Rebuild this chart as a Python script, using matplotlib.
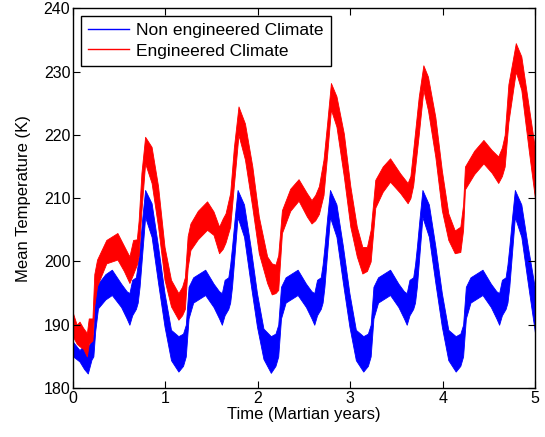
# Mean temperature, non engineered vs engineered climate

import matplotlib.pyplot as plt
from matplotlib.lines import Line2D

plt.rcParams['font.family'] = ['Liberation Sans', 'DejaVu Sans']

# band edges (upper / lower), t in Martian years
t_non = [0.00, 0.07, 0.12, 0.16, 0.20, 0.22, 0.24, 0.27, 0.35, 0.42, 0.52, 0.58, 0.61, 0.64, 0.68, 0.70, 0.72, 0.75, 0.78, 0.85, 0.92, 0.99,
         1.06, 1.14, 1.19, 1.22, 1.25, 1.30, 1.43, 1.52, 1.58, 1.61, 1.64, 1.68, 1.70, 1.72, 1.75, 1.78, 1.85, 1.92, 1.99,
         2.06, 2.14, 2.19, 2.22, 2.25, 2.30, 2.43, 2.52, 2.58, 2.61, 2.64, 2.68, 2.70, 2.72, 2.75, 2.78, 2.85, 2.92, 2.99,
         3.06, 3.14, 3.19, 3.22, 3.25, 3.30, 3.43, 3.52, 3.58, 3.61, 3.64, 3.68, 3.70, 3.72, 3.75, 3.78, 3.85, 3.92, 3.99,
         4.06, 4.14, 4.19, 4.22, 4.25, 4.30, 4.43, 4.52, 4.58, 4.61, 4.64, 4.68, 4.70, 4.72, 4.75, 4.78, 4.85, 4.92, 5.00]
non_hi = [187.3, 186.0, 186.8, 186.5, 187.5, 188.5, 195.5, 196.5, 198.0, 198.7, 196.5, 195.3, 195.0, 197.1, 197.5, 199.5, 202.0, 207.0, 211.3, 209.2, 202.4, 195.0,
          189.2, 188.2, 188.6, 190.0, 196.0, 197.5, 198.7, 196.5, 195.3, 195.0, 197.1, 197.5, 199.5, 202.3, 207.0, 211.3, 209.0, 202.4, 195.0,
          189.4, 188.2, 188.6, 190.0, 196.0, 197.5, 198.7, 196.5, 195.3, 195.0, 197.1, 197.5, 199.5, 202.3, 207.0, 211.3, 209.0, 202.4, 195.0,
          189.2, 188.2, 188.6, 190.0, 196.0, 197.5, 198.7, 196.5, 195.3, 195.0, 197.1, 197.5, 199.5, 202.3, 207.0, 211.3, 209.0, 202.4, 195.0,
          189.2, 188.2, 188.6, 190.0, 196.0, 197.5, 198.7, 196.5, 195.3, 195.0, 197.1, 197.5, 199.5, 202.3, 207.0, 211.3, 209.0, 202.4, 195.5]
non_lo = [185.0, 184.2, 183.0, 182.3, 184.5, 185.0, 189.0, 192.6, 194.0, 194.7, 192.8, 191.0, 190.0, 191.5, 192.5, 193.5, 196.0, 201.5, 207.0, 203.9, 196.6, 189.7,
          184.4, 182.6, 183.5, 185.0, 191.0, 193.5, 194.7, 192.8, 191.0, 190.0, 191.5, 192.5, 193.5, 196.0, 201.5, 207.0, 203.9, 196.6, 189.7,
          184.6, 182.4, 183.5, 185.0, 191.0, 193.5, 194.7, 192.8, 191.0, 190.0, 191.5, 192.5, 193.5, 196.0, 201.5, 207.0, 203.9, 196.6, 189.7,
          184.4, 182.6, 183.5, 185.0, 191.0, 193.5, 194.7, 192.8, 191.0, 190.0, 191.5, 192.5, 193.5, 196.0, 201.5, 207.0, 203.9, 196.6, 189.7,
          184.4, 182.6, 183.5, 185.0, 191.0, 193.5, 194.7, 192.8, 191.0, 190.0, 191.5, 192.5, 193.5, 196.0, 201.5, 207.0, 203.9, 196.6, 188.5]

t_eng = [0.00, 0.04, 0.07, 0.11, 0.15, 0.17, 0.21, 0.23, 0.26, 0.36, 0.48, 0.55, 0.61, 0.65, 0.69, 0.71, 0.74, 0.78, 0.85, 0.92, 0.99,
         1.06, 1.14, 1.18, 1.21, 1.24, 1.27, 1.35, 1.45, 1.52, 1.58, 1.62, 1.65, 1.70, 1.74, 1.79, 1.86, 1.94,
         2.01, 2.10, 2.15, 2.19, 2.22, 2.26, 2.35, 2.44, 2.53, 2.58, 2.62, 2.66, 2.71, 2.75, 2.79, 2.85, 2.93,
         3.00, 3.07, 3.13, 3.18, 3.22, 3.27, 3.35, 3.43, 3.54, 3.62, 3.65, 3.68, 3.74, 3.79, 3.84, 3.92, 3.99,
         4.06, 4.13, 4.19, 4.22, 4.24, 4.34, 4.44, 4.53, 4.60, 4.64, 4.67, 4.71, 4.79, 4.85, 4.93, 5.00]
eng_hi = [191.8, 190.0, 190.5, 189.5, 188.7, 191.0, 191.0, 198.0, 200.3, 203.4, 204.5, 202.5, 200.8, 203.4, 203.5, 206.5, 214.0, 219.7, 218.1, 211.9, 202.3,
          197.1, 195.0, 196.0, 197.5, 204.0, 206.0, 208.0, 209.5, 207.9, 205.5, 206.8, 207.6, 210.8, 218.0, 224.5, 221.8, 215.0,
          207.1, 200.8, 199.7, 199.5, 201.0, 208.1, 211.5, 213.0, 210.8, 209.7, 210.5, 211.9, 216.1, 222.0, 228.2, 226.1, 220.2,
          211.9, 205.5, 202.3, 202.3, 205.0, 212.9, 215.0, 216.3, 213.9, 212.4, 213.5, 217.6, 226.0, 231.0, 229.2, 222.8, 214.4,
          207.6, 204.9, 205.5, 209.0, 215.0, 217.5, 219.2, 217.6, 216.6, 218.0, 220.0, 228.0, 234.5, 232.4, 224.5, 217.6]
eng_lo = [188.1, 187.0, 186.6, 186.2, 185.0, 187.0, 187.5, 193.0, 196.1, 199.7, 200.3, 198.5, 196.6, 198.0, 199.5, 201.0, 208.0, 215.5, 212.4, 205.5, 197.1,
          192.9, 190.8, 191.5, 192.5, 199.0, 201.8, 203.5, 205.0, 204.2, 201.3, 202.0, 203.0, 205.5, 212.0, 220.0, 216.1, 208.5,
          201.3, 196.6, 194.8, 195.0, 195.5, 204.5, 208.0, 209.6, 207.1, 206.0, 206.5, 207.5, 210.5, 217.0, 224.0, 221.3, 213.4,
          205.5, 200.8, 198.1, 198.5, 200.0, 208.5, 211.0, 212.6, 210.8, 209.2, 210.0, 212.0, 220.0, 227.1, 223.9, 216.5, 208.1,
          203.4, 201.3, 201.5, 205.0, 211.4, 213.8, 215.5, 214.0, 212.4, 213.5, 215.0, 222.0, 230.0, 227.1, 217.6, 209.7]

fig = plt.figure(figsize=(5.45, 4.37), dpi=100)
ax = fig.add_axes([0.134, 0.112, 0.848, 0.869])

ax.fill_between(t_non, non_lo, non_hi, color='#0000ff', lw=0.6)
ax.fill_between(t_eng, eng_lo, eng_hi, color='#ff0000', lw=0.6)

ax.set_xlim(0, 5)
ax.set_ylim(180, 240)
ax.set_xticks(range(0, 6))
ax.set_yticks(range(180, 241, 10))
ax.tick_params(direction='in', top=True, right=True, labelsize=11.5, length=5, pad=2)
for s in ax.spines.values():
    s.set_linewidth(1.0)
ax.set_xlabel('Time (Martian years)', fontsize=12, labelpad=1)
ax.set_ylabel('Mean Temperature (K)', fontsize=12, labelpad=9)

handles = [Line2D([], [], color='#0000ff', lw=1), Line2D([], [], color='#ff0000', lw=1)]
leg = ax.legend(handles, ['Non engineered Climate', 'Engineered Climate'], loc='upper left',
                fontsize=12.5, fancybox=False, edgecolor='black', framealpha=1,
                borderpad=0.4, labelspacing=0.3, handlelength=2.4, handletextpad=0.4,
                borderaxespad=0.45)
leg.get_frame().set_linewidth(1.0)

fig.savefig('out.png', dpi=100)
